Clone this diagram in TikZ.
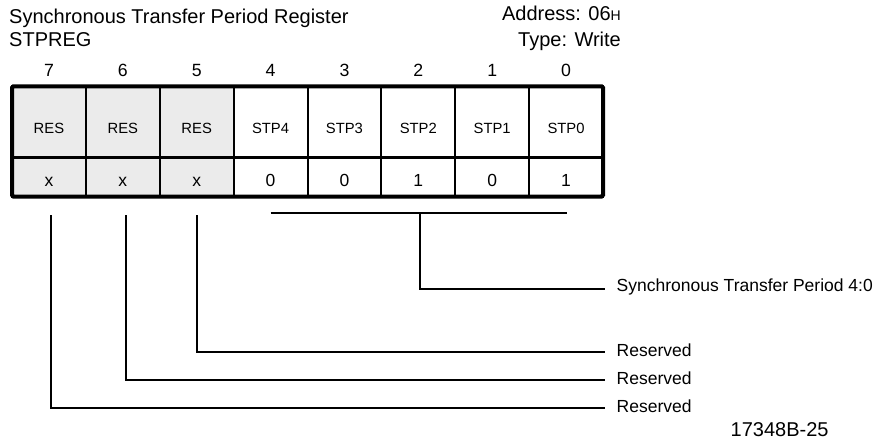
\documentclass[tikz,border=0pt]{standalone}
\usepackage{fontspec}
\setmainfont{Liberation Sans}
\definecolor{resgray}{HTML}{EBEBEB}
\begin{document}
\begin{tikzpicture}[x=1pt,y=-1pt,
  cell/.style={draw, line width=2pt, minimum width=73.875pt, inner sep=0pt, outer sep=0pt},
  namecell/.style={cell, minimum height=70.7pt},
  valcell/.style={cell, minimum height=39.5pt},
  headtxt/.style={font=\fontsize{20}{22}\selectfont, inner sep=0pt},
  bitnum/.style={font=\fontsize{17.7}{20}\selectfont, inner sep=0pt, anchor=base},
  nametxt/.style={font=\fontsize{14.8}{17}\selectfont, inner sep=0pt, anchor=base},
  valtxt/.style={font=\fontsize{17.5}{20}\selectfont, inner sep=0pt, anchor=base},
  lbl/.style={font=\fontsize{17.5}{20}\selectfont, inner sep=0pt, anchor=base west},
  conn/.style={line width=2pt},
  frame/.style={line width=4pt, rounded corners=1.5pt},
  midline/.style={line width=3pt}]
\useasboundingbox (0,0) rectangle (882,444);

% header
\node[headtxt, anchor=base west] (title) at (9,24) {Synchronous Transfer Period Register};
\node[headtxt, anchor=base west] (name) at (9,47) {STPREG};
\node[headtxt, anchor=base east] (addr) at (621,21) {Address: 06{\fontsize{14}{15}\selectfont H}};
\node[headtxt, anchor=base east] (type) at (621,46) {Type: Write};

% register cells
\foreach \b/\nm/\v/\f in {7/RES/x/resgray, 6/RES/x/resgray, 5/RES/x/resgray,
  4/STP4/0/white, 3/STP3/0/white, 2/STP2/1/white, 1/STP1/0/white, 0/STP0/1/white}{
  \pgfmathsetmacro\cx{12+73.875*(7.5-\b)}
  \node[namecell, fill=\f] (n\b) at (\cx,121.65) {};
  \node[valcell, fill=\f] (v\b) at (\cx,176.75) {};
  \node[bitnum] (h\b) at (\cx,76.5) {\b};
  \node[nametxt] (t\b) at (\cx,133) {\nm};
  \node[valtxt] (x\b) at (\cx,186) {\v};
}
\draw[midline] (n7.south west) -- (n0.south east);
\draw[frame] (n7.north west) rectangle (v0.south east);

% bracket for STP4:0
\coordinate (bl) at (270.7,212.7);
\coordinate (br) at (566.7,212.7);
\coordinate (bm) at (420,212.7);
\coordinate (es) at (605,289);
\draw[conn] (bl) -- (br);
\draw[conn] (bm) |- (es);
\node[lbl] (ls) at (616.5,291.5) {Synchronous Transfer Period 4:0};

% reserved bits
\coordinate (p7) at (51,215);
\coordinate (p6) at (125.5,215);
\coordinate (p5) at (197.3,215);
\coordinate (e5) at (605,351.7);
\coordinate (e6) at (605,380);
\coordinate (e7) at (605,408.3);
\draw[conn] (p5) |- (e5);
\draw[conn] (p6) |- (e6);
\draw[conn] (p7) |- (e7);
\node[lbl] (l5) at (616.5,356.2) {Reserved};
\node[lbl] (l6) at (616.5,384.5) {Reserved};
\node[lbl] (l7) at (616.5,412.8) {Reserved};

% figure id
\node[font=\fontsize{20}{22}\selectfont, inner sep=0pt, anchor=base west] (fig) at (730.5,436) {17348B-25};
\end{tikzpicture}
\end{document}
